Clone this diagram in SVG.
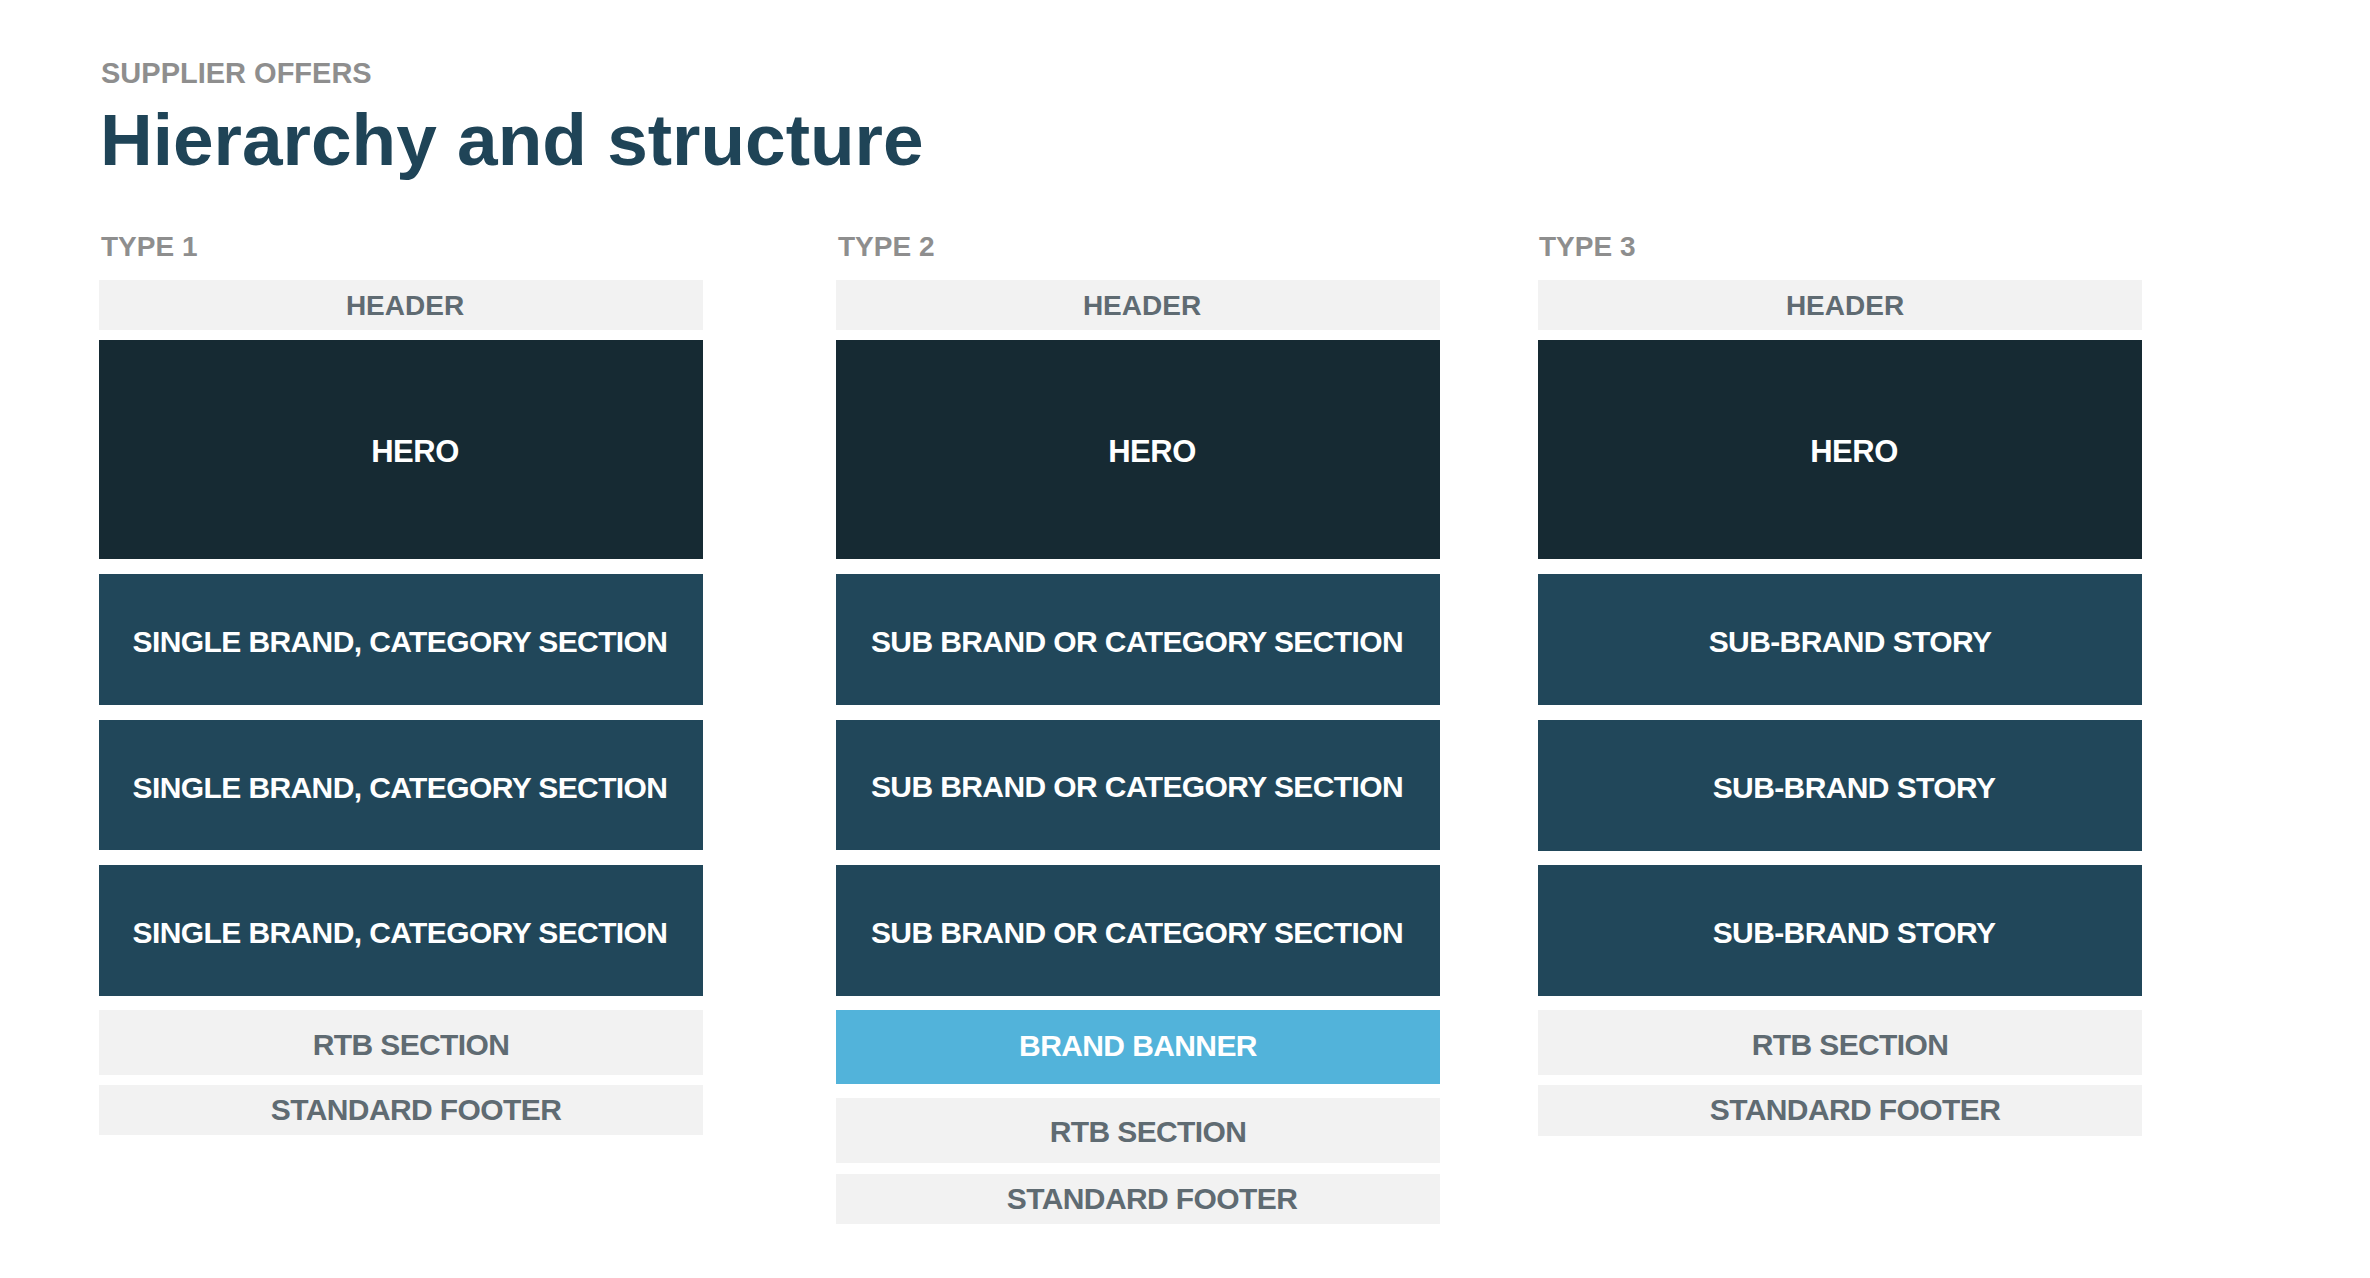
<svg xmlns="http://www.w3.org/2000/svg" width="2370" height="1278" viewBox="0 0 2370 1278">
<style>
text{font-family:"Liberation Sans",Arial,sans-serif;font-weight:bold}
.lbl{font-size:29px;fill:#8e8e8e}
.type{font-size:28px;fill:#8e8e8e}
.title{font-size:73px;fill:#1f4457}
.light{fill:#f2f2f2}
.hero{fill:#162a33}
.sec{fill:#21475a}
.banner{fill:#52b3da}
.lt{font-size:28px;fill:#5f6b72;text-anchor:middle}
.lt2{font-size:30px;fill:#5f6b72;text-anchor:middle;letter-spacing:-0.6px}
.wt{font-size:30px;fill:#ffffff;text-anchor:middle;letter-spacing:-0.6px}
.ht{font-size:31px;fill:#ffffff;text-anchor:middle;letter-spacing:-0.5px}
</style>
<rect width="2370" height="1278" fill="#ffffff"/>
<text class="lbl" x="101" y="83">SUPPLIER OFFERS</text>
<text class="title" x="100" y="165">Hierarchy and structure</text>

<g id="type1">
<text class="type" x="101" y="256">TYPE 1</text>
<g id="t1-header"><rect class="light" x="99" y="280" width="604" height="50"/><text class="lt" x="405" y="315">HEADER</text></g>
<g id="t1-hero"><rect class="hero" x="99" y="340" width="604" height="219"/><text class="ht" x="415" y="462">HERO</text></g>
<g id="t1-sec1"><rect class="sec" x="99" y="574" width="604" height="131"/><text class="wt" x="400" y="652">SINGLE BRAND, CATEGORY SECTION</text></g>
<g id="t1-sec2"><rect class="sec" x="99" y="720" width="604" height="130"/><text class="wt" x="400" y="798">SINGLE BRAND, CATEGORY SECTION</text></g>
<g id="t1-sec3"><rect class="sec" x="99" y="865" width="604" height="131"/><text class="wt" x="400" y="943">SINGLE BRAND, CATEGORY SECTION</text></g>
<g id="t1-rtb"><rect class="light" x="99" y="1010" width="604" height="65"/><text class="lt2" x="411" y="1055">RTB SECTION</text></g>
<g id="t1-footer"><rect class="light" x="99" y="1085" width="604" height="50"/><text class="lt2" x="416" y="1120">STANDARD FOOTER</text></g>
</g>

<g id="type2">
<text class="type" x="838" y="256">TYPE 2</text>
<g id="t2-header"><rect class="light" x="836" y="280" width="604" height="50"/><text class="lt" x="1142" y="315">HEADER</text></g>
<g id="t2-hero"><rect class="hero" x="836" y="340" width="604" height="219"/><text class="ht" x="1152" y="462">HERO</text></g>
<g id="t2-sec1"><rect class="sec" x="836" y="574" width="604" height="131"/><text class="wt" x="1137" y="652">SUB BRAND OR CATEGORY SECTION</text></g>
<g id="t2-sec2"><rect class="sec" x="836" y="720" width="604" height="130"/><text class="wt" x="1137" y="797">SUB BRAND OR CATEGORY SECTION</text></g>
<g id="t2-sec3"><rect class="sec" x="836" y="865" width="604" height="131"/><text class="wt" x="1137" y="943">SUB BRAND OR CATEGORY SECTION</text></g>
<g id="t2-banner"><rect class="banner" x="836" y="1010" width="604" height="74"/><text class="wt" x="1138" y="1056">BRAND BANNER</text></g>
<g id="t2-rtb"><rect class="light" x="836" y="1098" width="604" height="65"/><text class="lt2" x="1148" y="1142">RTB SECTION</text></g>
<g id="t2-footer"><rect class="light" x="836" y="1174" width="604" height="50"/><text class="lt2" x="1152" y="1209">STANDARD FOOTER</text></g>
</g>

<g id="type3">
<text class="type" x="1539" y="256">TYPE 3</text>
<g id="t3-header"><rect class="light" x="1538" y="280" width="604" height="50"/><text class="lt" x="1845" y="315">HEADER</text></g>
<g id="t3-hero"><rect class="hero" x="1538" y="340" width="604" height="219"/><text class="ht" x="1854" y="462">HERO</text></g>
<g id="t3-sec1"><rect class="sec" x="1538" y="574" width="604" height="131"/><text class="wt" x="1850" y="652">SUB-BRAND STORY</text></g>
<g id="t3-sec2"><rect class="sec" x="1538" y="720" width="604" height="131"/><text class="wt" x="1854" y="798">SUB-BRAND STORY</text></g>
<g id="t3-sec3"><rect class="sec" x="1538" y="865" width="604" height="131"/><text class="wt" x="1854" y="943">SUB-BRAND STORY</text></g>
<g id="t3-rtb"><rect class="light" x="1538" y="1010" width="604" height="65"/><text class="lt2" x="1850" y="1055">RTB SECTION</text></g>
<g id="t3-footer"><rect class="light" x="1538" y="1085" width="604" height="51"/><text class="lt2" x="1855" y="1120">STANDARD FOOTER</text></g>
</g>

<g id="connectors"></g>
</svg>
